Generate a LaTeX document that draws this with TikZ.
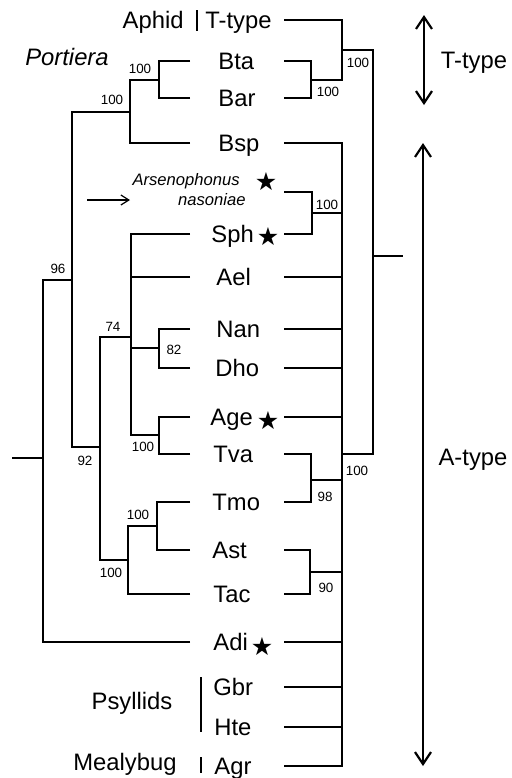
\documentclass[tikz,border=0pt]{standalone}
\usepackage{fontspec}
\setmainfont{Liberation Sans}
\newfontfamily\starfont{DejaVu Sans}
\usepackage{tikz}
\usetikzlibrary{positioning,arrows.meta}
\tikzset{
  branch/.style={line width=1.25pt},
  taxon/.style={font=\fontsize{11.9}{13}\selectfont, anchor=west, inner sep=0pt,
                text height=8.5pt, text depth=0pt},
  boot/.style={font=\fontsize{6.7}{7}\selectfont, inner sep=0pt},
  grp/.style={font=\fontsize{11.9}{13}\selectfont, inner sep=0pt},
  starnode/.style={font=\starfont\fontsize{12.5}{14}\selectfont, inner sep=0pt},
  span/.style={{Straight Barb[length=6pt,width=8pt,line width=1.1pt]}-{Straight Barb[length=6pt,width=8pt,line width=1.1pt]}, line width=0.8pt},
  ptr/.style={-{Straight Barb[length=4pt,width=5pt]}, line width=0.6pt},
}

\begin{document}
\begin{tikzpicture}[x=0.5pt, y=-0.5pt]
    \useasboundingbox (0,0) rectangle (512,778);
    % taxa
    \node[taxon, anchor=east] (aphid) at (184,20) {Aphid};
    \node[taxon] (ttype) at (205,20) {T-type};
    \node[taxon] (bta) at (218,61) {Bta};
    \node[taxon] (bar) at (218,98) {Bar};
    \node[taxon] (bsp) at (218,143) {Bsp};
    \node[font=\fontsize{8.3}{9}\selectfont\itshape, inner sep=0pt, anchor=east] (ars) at (240,181) {Arsenophonus};
    \node[font=\fontsize{8.3}{9}\selectfont\itshape, inner sep=0pt, anchor=east] (nas) at (246,200) {nasoniae};
    \node[taxon] (sph) at (211,234) {Sph};
    \node[taxon] (ael) at (216,277) {Ael};
    \node[taxon] (nan) at (216,329) {Nan};
    \node[taxon] (dho) at (215,368) {Dho};
    \node[taxon] (age) at (210,417) {Age};
    \node[taxon] (tva) at (213,454) {Tva};
    \node[taxon] (tmo) at (212,502) {Tmo};
    \node[taxon] (ast) at (212,550) {Ast};
    \node[taxon] (tac) at (213,594) {Tac};
    \node[taxon] (adi) at (213,642) {Adi};
    \node[taxon] (gbr) at (213,687) {Gbr};
    \node[taxon] (hte) at (214,727) {Hte};
    \node[taxon] (agr) at (214,766) {Agr};
    \node[starnode] (s1) at (266,182) {★};
    \node[starnode] (s2) at (268,237) {★};
    \node[starnode] (s3) at (268,421) {★};
    \node[starnode] (s4) at (262,647) {★};
    % groups
    \node[grp, font=\fontsize{11.9}{13}\selectfont\itshape] (port) at (67,57) {Portiera};
    \node[grp] (psy) at (132,703) {Psyllids};
    \node[grp, anchor=east] (mea) at (177,764) {Mealybug};
    \node[grp] (tlab) at (474,63) {T-type};
    \node[grp] (alab) at (473,460) {A-type};
    \draw[line width=1.2pt] (197,10) -- (197,31);
    \draw[line width=1.2pt] (201,677) -- (201,732);
    \draw[line width=1.2pt] (201,757) -- (201,773);
    % leaf tips
    \foreach \n/\y in {Ttype/20, Bta/61, Bar/98, Bsp/143, Ars/192, Sph/234, Ael/277,
                       Nan/329, Dho/368, Age/417, Tva/454, Tmo/502, Ast/550, Tac/594,
                       Adi/642, Gbr/687, Hte/727, Agr/766}
      {\coordinate (l\n) at (190,\y); \coordinate (r\n) at (284,\y);}
    % left tree
    \coordinate (L1) at (159,80);
    \coordinate (L2) at (130,112);
    \coordinate (L3) at (72,280);
    \coordinate (L96) at (43,458);
    \coordinate (Lroot) at (12,458);
    \coordinate (L92) at (100,447);
    \coordinate (L74) at (131,337);
    \coordinate (L82) at (159,348);
    \coordinate (LAT) at (159,435);
    \coordinate (L100a) at (157,526);
    \coordinate (L100b) at (128,560);
    \draw[branch] (lBta) -| (L1) (lBar) -| (L1);
    \draw[branch] (L1) -| (L2) (lBsp) -| (L2);
    \draw[branch] (L2) -| (L3) (L92) -| (L3);
    \draw[branch] (L3) -| (L96) (lAdi) -| (L96);
    \draw[branch] (L96) -- (Lroot);
    \draw[branch] (L74) -| (L92) (L100b) -| (L92);
    \draw[branch] (lSph) -| (L74) (lAel) -| (L74) (L82) -| (L74) (LAT) -| (L74);
    \draw[branch] (lNan) -| (L82) (lDho) -| (L82);
    \draw[branch] (lAge) -| (LAT) (lTva) -| (LAT);
    \draw[branch] (lTmo) -| (L100a) (lAst) -| (L100a);
    \draw[branch] (L100a) -| (L100b) (lTac) -| (L100b);
    \node[boot] (b1) at (140,69) {100};
    \node[boot] (b2) at (112,100) {100};
    \node[boot] (b3) at (58,269) {96};
    \node[boot] (b4) at (85,461) {92};
    \node[boot] (b5) at (113,327) {74};
    \node[boot] (b6) at (174,350) {82};
    \node[boot] (b7) at (143,447) {100};
    \node[boot] (b8) at (138,515) {100};
    \node[boot] (b9) at (111,573) {100};
    % right tree
    \coordinate (R1) at (311,80);
    \coordinate (R2) at (342,50);
    \coordinate (Rroot) at (373,256);
    \coordinate (Rend) at (403,256);
    \coordinate (RA) at (342,454);
    \coordinate (RArs) at (312,213);
    \coordinate (RTT) at (311,480);
    \coordinate (RAT) at (310,572);
    \draw[branch] (rBta) -| (R1) (rBar) -| (R1);
    \draw[branch] (rTtype) -| (R2) (R1) -| (R2);
    \draw[branch] (R2) -| (Rroot) (RA) -| (Rroot);
    \draw[branch] (Rroot) -- (Rend);
    \draw[branch] (rArs) -| (RArs) (rSph) -| (RArs);
    \draw[branch] (rTva) -| (RTT) (rTmo) -| (RTT);
    \draw[branch] (rAst) -| (RAT) (rTac) -| (RAT);
    \draw[branch] (rBsp) -| (RA) (RArs) -| (RA) (rAel) -| (RA) (rNan) -| (RA)
                  (rDho) -| (RA) (rAge) -| (RA) (RTT) -| (RA) (RAT) -| (RA)
                  (rAdi) -| (RA) (rGbr) -| (RA) (rHte) -| (RA) (rAgr) -| (RA);
    \node[boot] (c1) at (328,92) {100};
    \node[boot] (c2) at (358,63) {100};
    \node[boot] (c3) at (327,205) {100};
    \node[boot] (c4) at (357,471) {100};
    \node[boot] (c5) at (325,497) {98};
    \node[boot] (c6) at (326,588) {90};
    % arrows
    \coordinate (tTop) at (424,15);
    \coordinate (tBot) at (424,105);
    \coordinate (aTop) at (423,143);
    \coordinate (aBot) at (423,766);
    \coordinate (pA) at (87,200);
    \coordinate (pB) at (130,200);
    \draw[span] (tTop) -- (tBot);
    \draw[span] (aTop) -- (aBot);
    \draw[ptr] (pA) -- (pB);
\end{tikzpicture}
\end{document}
